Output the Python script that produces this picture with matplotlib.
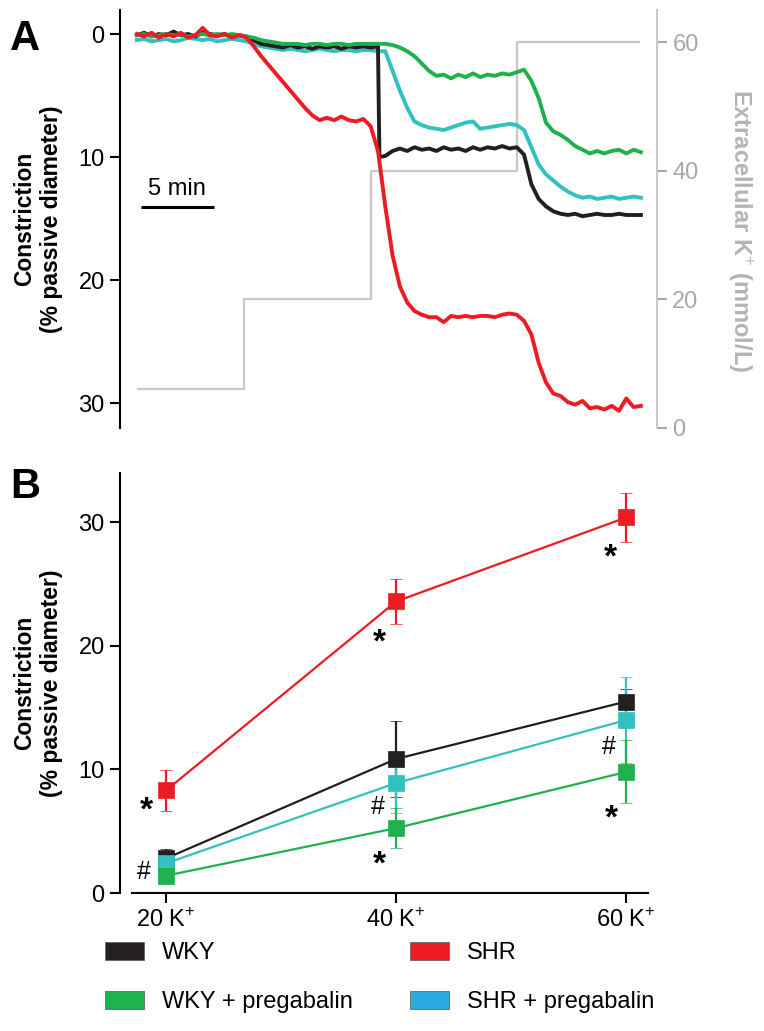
import numpy as np
import matplotlib.pyplot as plt
from matplotlib.patches import Patch

plt.rcParams['font.family'] = ['Liberation Sans', 'DejaVu Sans']
plt.rcParams['mathtext.fontset'] = 'custom'
plt.rcParams['mathtext.rm'] = 'Liberation Sans'

# ---- panel A: constriction traces (% passive diameter) vs time (min)
minutes = np.arange(0, 34.6, 0.5)
wky_minutes = np.insert(minutes, 34, 16.6)

wky_trace = [0.1, -0.1, 0.2, 0.0, 0.1, -0.2, 0.1, 0.0, 0.2, -0.1, 0.0, 0.1, 0.0, 0.2, 0.1, 0.2,
             0.5, 0.8, 0.9, 1.0, 1.1, 0.9, 1.1, 1.0, 1.2, 1.0, 1.1, 1.0, 1.2, 1.0, 1.1, 1.0, 1.1, 1.0,
             10.0,
             9.9, 9.5, 9.3, 9.5, 9.2, 9.4, 9.3, 9.5, 9.2, 9.4, 9.3, 9.5, 9.2, 9.4, 9.2, 9.3, 9.1, 9.3, 9.2, 9.8,
             12.2, 13.4, 14.0, 14.4, 14.6, 14.7, 14.6, 14.8, 14.7, 14.6, 14.7, 14.7, 14.6, 14.7, 14.7, 14.7]

shr_trace = [0.0, 0.2, -0.1, 0.3, 0.0, 0.2, -0.1, 0.3, 0.1, -0.5, 0.1, 0.2, 0.0, 0.3, 0.1, 0.3,
             1.0, 1.8, 2.5, 3.2, 3.9, 4.6, 5.3, 6.0, 6.6, 7.0, 6.8, 7.0, 6.7, 7.0, 7.1, 6.9, 7.5, 9.5,
             14.0, 18.0, 20.5, 21.8, 22.5, 22.8, 23.0, 23.0, 23.4, 22.9, 23.0, 22.9, 23.0, 22.9, 22.9, 23.0,
             22.8, 22.7, 22.8, 23.3, 24.4, 26.7, 28.3, 29.2, 29.4, 29.9, 30.1, 29.8, 30.4, 30.3, 30.5, 30.2,
             30.6, 29.6, 30.3, 30.2]

wky_preg_trace = [0.1, 0.0, 0.2, 0.1, 0.0, 0.1, 0.0, 0.2, 0.1, 0.0, 0.1, 0.0, 0.1, 0.0, 0.1, 0.2,
                  0.3, 0.5, 0.6, 0.7, 0.8, 0.8, 0.8, 0.9, 0.8, 0.8, 0.9, 0.8, 0.8, 0.9, 0.8, 0.8, 0.8, 0.8, 0.8, 0.9,
                  1.1, 1.4, 1.8, 2.4, 3.0, 3.4, 3.3, 3.6, 3.3, 3.5, 3.2, 3.5, 3.3, 3.4, 3.2, 3.3, 3.1, 2.9,
                  3.8, 5.2, 7.2, 7.9, 8.2, 8.6, 9.1, 9.4, 9.7, 9.5, 9.7, 9.5, 9.4, 9.7, 9.4, 9.6]

shr_preg_trace = [0.5, 0.4, 0.6, 0.5, 0.4, 0.6, 0.5, 0.3, 0.4, 0.5, 0.4, 0.6, 0.5, 0.4, 0.5, 0.6,
                  0.8, 1.0, 1.1, 1.2, 1.3, 1.2, 1.3, 1.4, 1.3, 1.2, 1.3, 1.4, 1.3, 1.3, 1.4, 1.3, 1.3, 1.4, 1.4, 3.0,
                  4.6, 6.0, 7.1, 7.4, 7.6, 7.7, 7.8, 7.6, 7.4, 7.2, 7.1, 7.7, 7.6, 7.5, 7.4, 7.3, 7.4, 7.8,
                  9.2, 10.6, 11.4, 11.9, 12.4, 12.8, 13.1, 13.3, 13.2, 13.4, 13.3, 13.2, 13.4, 13.3, 13.2, 13.3]

k_step_minutes = [0.1, 7.3, 16.0, 26.0, 34.4]
k_step_mmol = [6, 20, 40, 60, 60]

# ---- panel B: mean constriction +/- SEM
k_conc = [20, 40, 60]
k_labels = ['20 K$^{+}$', '40 K$^{+}$', '60 K$^{+}$']
wky_mean = [2.8, 10.85, 15.5]
wky_sem = [0.8, 3.1, 1.0]
shr_mean = [8.3, 23.6, 30.4]
shr_sem = [1.65, 1.8, 2.0]
wky_preg_mean = [1.4, 5.25, 9.8]
wky_preg_sem = [0.4, 1.6, 2.55]
shr_preg_mean = [2.4, 8.9, 14.0]
shr_preg_sem = [0.6, 2.4, 3.5]

# significance marks (symbol, x, y)
marks = [('*', 18.26, 6.6), ('#', 18.09, 1.7),
         ('*', 38.52, 20.2), ('#', 38.43, 6.96), ('*', 38.52, 2.3),
         ('*', 58.6, 27.1), ('#', 58.52, 11.82), ('*', 58.7, 6.0)]

BLACK = '#231f20'
RED = '#ed1c24'
GREEN = '#1fb14b'
CYAN = '#33c0c0'
LEG_BLUE = '#29abe2'
GRAY = '#c8c8c8'

W, H = 764, 1031
fig = plt.figure(figsize=(7.64, 10.31), dpi=100)

# ---------------- panel A
ax = fig.add_axes([120 / W, 1 - 428 / H, 537 / W, 418 / H])
ax2 = ax.twinx()
ax.set_zorder(ax2.get_zorder() + 1)
ax.patch.set_visible(False)

ax2.step(k_step_minutes, k_step_mmol, where='post', color=GRAY, lw=1.6)
ax2.set_ylim(0, 65)
ax2.set_yticks([0, 20, 40, 60])
ax2.tick_params(axis='y', colors='#a8a8a8', labelsize=17, length=7, width=1.5, pad=4)
for s in ['top', 'bottom', 'left']:
    ax2.spines[s].set_visible(False)
ax2.spines['right'].set_color(GRAY)
ax2.spines['right'].set_linewidth(1.5)

ax.plot(minutes, shr_preg_trace, color=CYAN, lw=2.8)
ax.plot(wky_minutes, wky_trace, color=BLACK, lw=2.8)
ax.plot(minutes, wky_preg_trace, color=GREEN, lw=2.8)
ax.plot(minutes, shr_trace, color=RED, lw=2.8)

ax.set_xlim(-1.16, 35.6)
ax.set_ylim(32.0, -1.95)
ax.set_yticks([0, 10, 20, 30])
ax.tick_params(axis='y', labelsize=17, length=7, width=1.5, pad=4)
ax.xaxis.set_visible(False)
for s in ['top', 'bottom', 'right']:
    ax.spines[s].set_visible(False)
ax.spines['left'].set_linewidth(1.5)
ax.set_ylabel('Constriction\n(% passive diameter)', fontsize=16.5, fontweight='bold', linespacing=1.2)
ax.yaxis.set_label_coords(-0.106, 0.5)

# scale bar
ax.plot([0.27, 5.27], [14.07, 14.07], color='black', lw=2.2, solid_capstyle='butt')
ax.text(2.77, 13.1, '5 min', ha='center', va='baseline', fontsize=17)

fig.text(740 / W, 1 - 231 / H, 'Extracellular K$^{+}$ (mmol/L)', rotation=270,
         ha='center', va='center', fontsize=17, fontweight='bold', color='#b4b4b4')
fig.text(10 / W, 1 - 50 / H, 'A', fontsize=30, fontweight='bold', va='baseline')

# ---------------- panel B
bx = fig.add_axes([120 / W, 1 - 893 / H, 528 / W, 420 / H])
groups = [(wky_mean, wky_sem, BLACK), (shr_mean, shr_sem, RED),
          (shr_preg_mean, shr_preg_sem, CYAN), (wky_preg_mean, wky_preg_sem, GREEN)]
for mean, sem, col in groups:
    bx.errorbar(k_conc, mean, yerr=sem, color=col, lw=1.6, marker='s', markersize=11,
                markeredgecolor=col, markeredgewidth=0.5, elinewidth=1.6, capsize=4, capthick=1.6)

for sym, x, y in marks:
    if sym == '*':
        bx.text(x, y, sym, ha='center', va='center', fontsize=24, fontweight='bold')
    else:
        bx.text(x, y, sym, ha='center', va='center', fontsize=18)

bx.set_xlim(16, 61.9)
bx.set_ylim(0, 34.0)
bx.set_xticks(k_conc)
bx.set_xticklabels(k_labels)
bx.set_yticks([0, 10, 20, 30])
bx.tick_params(labelsize=17, length=7, width=1.5, pad=4)
bx.spines['top'].set_visible(False)
bx.spines['right'].set_visible(False)
bx.spines['left'].set_linewidth(1.5)
bx.spines['bottom'].set_linewidth(1.5)
bx.spines['bottom'].set_bounds(17, 61.9)
bx.set_ylabel('Constriction\n(% passive diameter)', fontsize=16.5, fontweight='bold', linespacing=1.2)
bx.yaxis.set_label_coords(-0.108, 0.5)
fig.text(10 / W, 1 - 498 / H, 'B', fontsize=30, fontweight='bold', va='baseline')

# legend in two columns
leg_kw = dict(frameon=False, fontsize=17, handlelength=1.67, handleheight=0.77,
              handletextpad=0.75, labelspacing=1.15, borderpad=0, borderaxespad=0, loc='upper left')
h1 = [Patch(facecolor=BLACK, edgecolor='#666666', lw=0.6, label='WKY'),
      Patch(facecolor=GREEN, edgecolor='#666666', lw=0.6, label='WKY + pregabalin')]
h2 = [Patch(facecolor=RED, edgecolor='#666666', lw=0.6, label='SHR'),
      Patch(facecolor=LEG_BLUE, edgecolor='#666666', lw=0.6, label='SHR + pregabalin')]
fig.legend(handles=h1, bbox_to_anchor=(105 / W, 1 - 942 / H), **leg_kw)
fig.legend(handles=h2, bbox_to_anchor=(410 / W, 1 - 942 / H), **leg_kw)

fig.savefig('out.png', dpi=100)
